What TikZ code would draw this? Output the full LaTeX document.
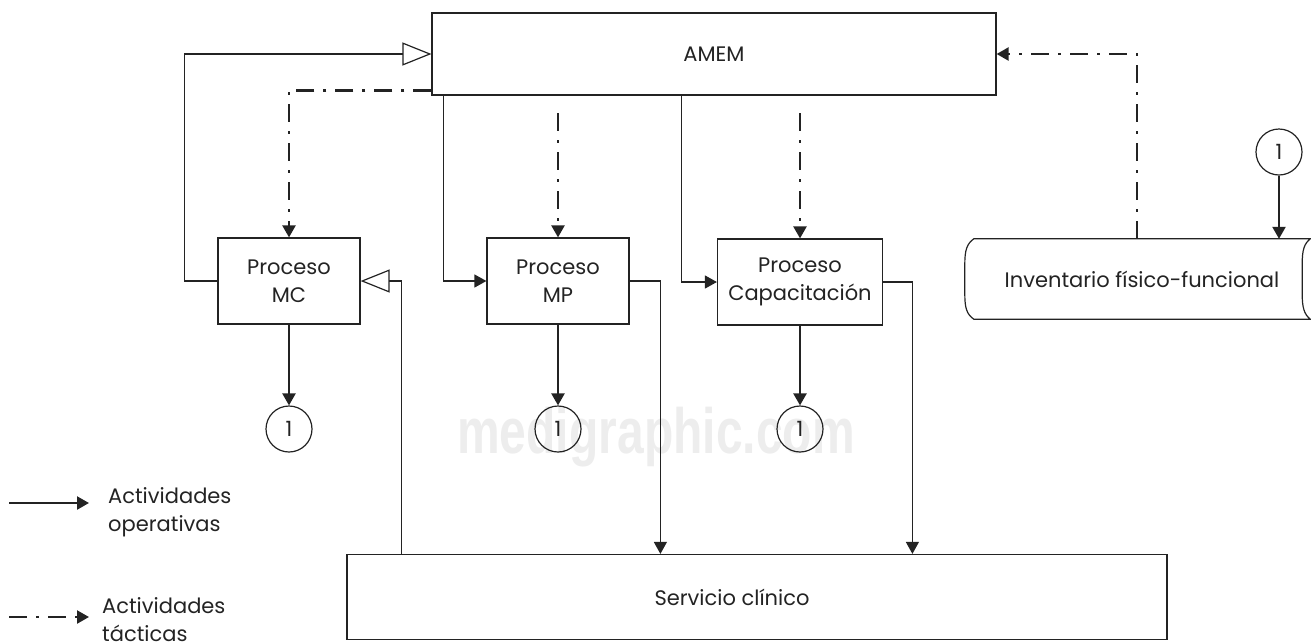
\documentclass[tikz,border=0pt]{standalone}
\usepackage{fontspec}
\setmainfont{Poppins}
\newfontfamily\marcafont{Liberation Sans}
\usetikzlibrary{arrows.meta}
\definecolor{trazo}{RGB}{35,35,35}

\begin{document}
\begin{tikzpicture}[x=1pt, y=-1pt, font=\fontsize{21}{28}\selectfont, text=trazo,
    caja/.style={draw=trazo, line width=1.2pt, minimum width=142pt, minimum height=86pt, align=center, inner sep=0pt},
    uno/.style={draw=trazo, circle, line width=1.2pt, minimum size=46pt, inner sep=0pt},
    fino/.style={draw=trazo, line width=1.2pt, -{Triangle[length=12pt, width=13pt]}},
    retro/.style={draw=trazo, line width=1.2pt, -{Triangle[open, length=29pt, width=23pt]}},
    oper/.style={draw=trazo, line width=2.3pt, -{Triangle[length=12pt, width=13pt]}},
    tact/.style={draw=trazo, line width=2.3pt, dash pattern=on 18pt off 9pt on 3pt off 9pt, -{Triangle[length=12pt, width=13pt]}}]
    \useasboundingbox (0,0) rectangle (1311,641);

    % marca de agua
    \node[anchor=base, text=black!7, xscale=0.75, font=\marcafont\bfseries\fontsize{64}{64}\selectfont] (marca) at (656,453) {medigraphic.com};

    % cajas
    \node[caja, minimum width=564pt, minimum height=82pt] (amem) at (714,54) {AMEM};
    \node[caja] (mc) at (289,281) {Proceso\\MC};
    \node[caja] (mp) at (558,281) {Proceso\\MP};
    \node[caja, minimum width=165pt] (cap) at (800,282) {Proceso\\Capacitación};
    \node[caja, minimum width=820pt, minimum height=85pt,
          label={[xshift=-25pt]center:Servicio clínico}] (serv) at (757,597) {};

    % inventario (cinta)
    \node[minimum width=336pt, minimum height=80pt, inner sep=0pt] (inv) at (1142,279) {Inventario físico-funcional};
    \draw[trazo, line width=1.2pt] (inv.north west) -- (inv.north east)
        .. controls +(-6,5) and +(0,-14) .. ++(-8,25) -- ++(0,30)
        .. controls +(0,14) and +(-6,-5) .. (inv.south east)
        -- (inv.south west)
        .. controls +(-7,-5) and +(0,14) .. ++(-9,-25) -- ++(0,-30)
        .. controls +(0,-14) and +(-7,5) .. (inv.north west) -- cycle;

    % conectores
    \node[uno] (u1) at (289,429) {1};
    \node[uno] (u2) at (558,429) {1};
    \node[uno] (u3) at (800,429) {1};
    \node[uno] (u4) at (1279,152) {1};

    \draw[retro] (mc.west) -- ++(-33,0) |- (amem.west);
    \draw[tact] ([yshift=5pt]amem.south west) -| (mc.north);
    \draw[fino] ([xshift=12pt]amem.south west) |- (mp.west);
    \draw[fino] ([xshift=250pt]amem.south west) |- (cap.west);
    \coordinate (tac) at (0,113);
    \draw[tact] (mp.north |- tac) -- (mp.north);
    \draw[tact] (cap.north |- tac) -- (cap.north);
    \draw[tact] ([xshift=-5pt]inv.north) |- (amem.east);

    \draw[fino] (mp.east) -| ([xshift=314pt]serv.north west);
    \draw[fino] (cap.east) -| ([xshift=566pt]serv.north west);
    \draw[retro] ([xshift=55pt]serv.north west) |- (mc.east);

    \draw[oper] (mc.south) -- (u1.north);
    \draw[oper] (mp.south) -- (u2.north);
    \draw[oper] (cap.south) -- (u3.north);
    \draw[oper] (u4.south) -- (u4.south |- inv.north);

    % leyenda
    \coordinate (op0) at (9,503);
    \coordinate (op1) at (89,503);
    \draw[oper] (op0) -- (op1);
    \node[anchor=west, align=left, inner sep=0pt] (leyop) at (108,512) {Actividades\\operativas};
    \coordinate (ta0) at (9,617);
    \coordinate (ta1) at (89,617);
    \draw[tact] (ta0) -- (ta1);
    \node[anchor=west, align=left, inner sep=0pt] (leyta) at (102,620) {Actividades\\tácticas};
\end{tikzpicture}
\end{document}
